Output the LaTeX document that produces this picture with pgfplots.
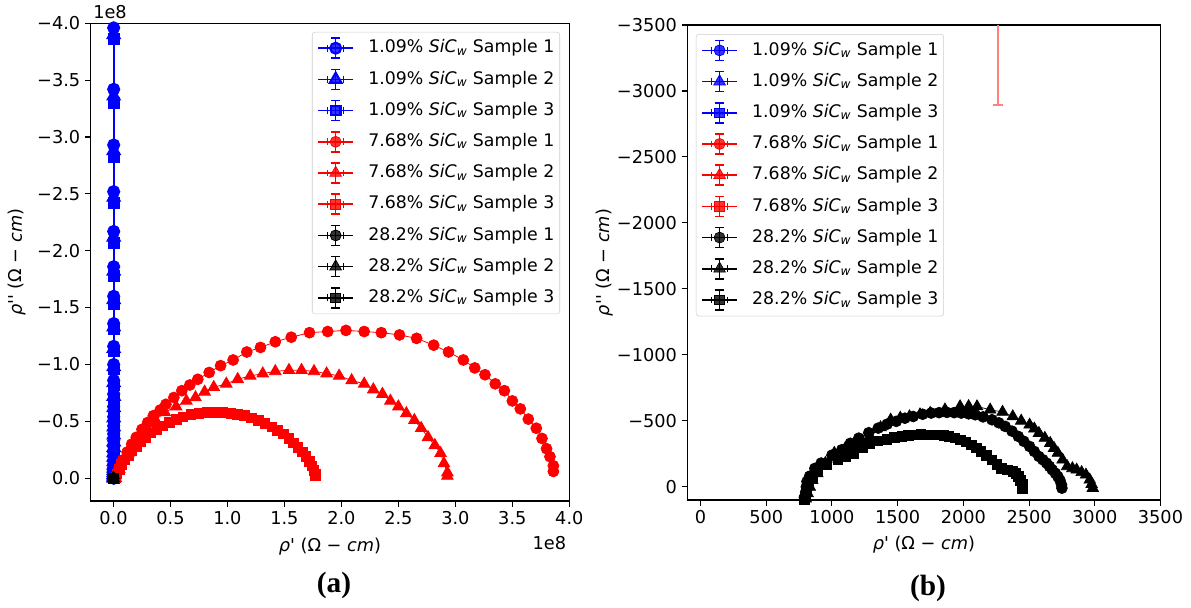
\documentclass[border=0pt]{standalone}
\usepackage{fontspec}
\setmainfont{DejaVu Sans}[Ligatures=TeXOff]
\newfontfamily\capfont{Liberation Serif}
\usepackage{pgfplots}
\pgfplotsset{compat=1.18}
\definecolor{mplblue}{RGB}{0,0,255}
\definecolor{mplred}{RGB}{255,0,0}
\definecolor{errred}{RGB}{255,130,130}
\newcommand{\sic}{\textit{SiC}\textsubscript{\textit{w}}}
\newcommand{\rholabel}[1]{\textit{ρ}#1 (Ω − \textit{cm})}
\pgfplotsset{
  errleg/.style={legend image code/.code={
    \draw[##1,mark=none,line width=1.1pt] (0pt,0pt) -- (26pt,0pt);
    \draw[##1,mark=none,line width=1.1pt] (7pt,-2.5pt) -- (7pt,2.5pt);
    \draw[##1,mark=none,line width=1.1pt] (19pt,-2.5pt) -- (19pt,2.5pt);
    \draw[##1,mark=none,line width=1.1pt] (13pt,-7.5pt) -- (13pt,7.5pt);
    \draw[##1,mark=none,line width=1.1pt] (9.5pt,-7.5pt) -- (16.5pt,-7.5pt);
    \draw[##1,mark=none,line width=1.1pt] (9.5pt,7.5pt) -- (16.5pt,7.5pt);
    \draw[##1] plot coordinates {(13pt,0pt)};
  }},
  mplaxis/.style={
    scale only axis, anchor=south west,
    axis line style={line width=0.8pt},
    tick align=outside, xtick pos=bottom, ytick pos=left,
    major tick length=4.3pt,
    every tick/.style={black, line width=0.8pt},
    minor tick num=0,
    tick label style={font=\fontsize{13.3}{16}\selectfont},
    y dir=reverse, scaled ticks=false, clip=true,
    errleg,
    legend cell align=left,
    legend style={draw=black!20, rounded corners=2pt, fill=white, fill opacity=0.8, text opacity=1,
      font=\fontsize{13}{15}\selectfont, inner xsep=4pt, inner ysep=4pt, row sep=7.3pt, column sep=10.9pt,
      nodes={inner sep=0pt, text height=10pt, text depth=3pt}},
  },
  circ/.style={mark=*, mark size=4.1pt, line width=0.6pt},
  tri/.style={mark=triangle*, mark size=5pt, line width=0.6pt},
  sqr/.style={mark=square*, mark size=3.6pt, line width=0.6pt},
}
\begin{document}
\begin{tikzpicture}
\useasboundingbox (0,0) rectangle (893.25pt,455.25pt);
% ---------------- (a) ----------------
\begin{axis}[mplaxis, at={(68.0pt,79.5pt)}, width=359pt, height=358.3pt,
  xmin=-0.2, xmax=4.0, ymin=-4.0, ymax=0.2,
  xtick={0,0.5,1,1.5,2,2.5,3,3.5,4}, xticklabels={0.0,0.5,1.0,1.5,2.0,2.5,3.0,3.5,4.0},
  ytick={-4,-3.5,-3,-2.5,-2,-1.5,-1,-0.5,0},
  yticklabels={−4.0,−3.5,−3.0,−2.5,−2.0,−1.5,−1.0,−0.5,0.0},
  xlabel={\rholabel{'}}, ylabel={\rholabel{''}},
  every axis x label/.style={at={(axis description cs:0.5,-0.0957)}, anchor=center, font=\fontsize{13.3}{16}\selectfont},
  every axis y label/.style={at={(axis description cs:-0.154,0.5)}, anchor=center, rotate=90, font=\fontsize{13.3}{16}\selectfont},
  legend style={at={(axis description cs:0.9805,0.982)}, anchor=north east}]
\addplot[color=mplblue, circ, line width=1.6pt] coordinates {
(0.002,0) (0.002,-0.01) (0.002,-0.02) (0.002,-0.035) (0.002,-0.05) (0.002,-0.07) (0.002,-0.09) (0.002,-0.12) (0.002,-0.15) (0.002,-0.19) (0.002,-0.23) (0.002,-0.28) (0.002,-0.33) (0.002,-0.39) (0.002,-0.46) (0.002,-0.54) (0.002,-0.63) (0.002,-0.74) (0.002,-0.86) (0.002,-1.00) (0.002,-1.16) (0.002,-1.36) (0.002,-1.60) (0.002,-1.86) (0.002,-2.17) (0.002,-2.52) (0.002,-2.93) (0.002,-3.42) (0.002,-3.96) (0.002,-4.62)};
\addlegendentry{1.09\% \sic{} Sample 1}
\addplot[color=mplblue, tri, line width=1.6pt] coordinates {
(0.002,0) (0.002,-0.01) (0.002,-0.02) (0.002,-0.034) (0.002,-0.05) (0.002,-0.068) (0.002,-0.088) (0.002,-0.115) (0.002,-0.145) (0.002,-0.185) (0.002,-0.225) (0.002,-0.27) (0.002,-0.32) (0.002,-0.38) (0.002,-0.45) (0.002,-0.53) (0.002,-0.62) (0.002,-0.72) (0.002,-0.84) (0.002,-0.98) (0.002,-1.14) (0.002,-1.33) (0.002,-1.57) (0.002,-1.82) (0.002,-2.12) (0.002,-2.47) (0.002,-2.88) (0.002,-3.36) (0.002,-3.90) (0.002,-4.55)};
\addlegendentry{1.09\% \sic{} Sample 2}
\addplot[color=mplblue, sqr, line width=1.6pt] coordinates {
(0.002,0) (0.002,-0.01) (0.002,-0.02) (0.002,-0.033) (0.002,-0.048) (0.002,-0.066) (0.002,-0.086) (0.002,-0.112) (0.002,-0.14) (0.002,-0.18) (0.002,-0.22) (0.002,-0.265) (0.002,-0.315) (0.002,-0.37) (0.002,-0.44) (0.002,-0.52) (0.002,-0.60) (0.002,-0.70) (0.002,-0.82) (0.002,-0.96) (0.002,-1.12) (0.002,-1.31) (0.002,-1.53) (0.002,-1.78) (0.002,-2.07) (0.002,-2.42) (0.002,-2.82) (0.002,-3.30) (0.002,-3.86) (0.002,-4.50)};
\addlegendentry{1.09\% \sic{} Sample 3}
\addplot[color=mplred, circ] coordinates {
(0.02,0) (0.03,-0.04) (0.05,-0.09) (0.08,-0.16) (0.12,-0.23) (0.16,-0.30) (0.20,-0.36) (0.25,-0.43) (0.30,-0.49) (0.35,-0.55) (0.41,-0.60) (0.46,-0.65) (0.53,-0.71) (0.60,-0.77) (0.67,-0.82) (0.74,-0.87) (0.84,-0.93) (0.94,-0.99) (1.05,-1.04) (1.17,-1.11) (1.29,-1.15) (1.42,-1.20) (1.56,-1.24) (1.72,-1.28) (1.88,-1.29) (2.04,-1.30) (2.20,-1.29) (2.35,-1.28) (2.51,-1.26) (2.66,-1.23) (2.81,-1.17) (2.94,-1.11) (3.07,-1.04) (3.17,-0.97) (3.26,-0.91) (3.35,-0.83) (3.43,-0.77) (3.50,-0.68) (3.57,-0.61) (3.64,-0.52) (3.71,-0.44) (3.76,-0.35) (3.80,-0.26) (3.83,-0.19) (3.86,-0.11) (3.86,-0.06)};
\addlegendentry{7.68\% \sic{} Sample 1}
\addplot[color=mplred, tri] coordinates {
(0.02,0) (0.05,-0.08) (0.09,-0.15) (0.13,-0.22) (0.18,-0.29) (0.24,-0.37) (0.30,-0.44) (0.37,-0.51) (0.45,-0.58) (0.55,-0.63) (0.64,-0.68) (0.72,-0.71) (0.80,-0.76) (0.88,-0.80) (0.99,-0.83) (1.09,-0.87) (1.20,-0.90) (1.31,-0.92) (1.42,-0.94) (1.54,-0.95) (1.65,-0.95) (1.76,-0.94) (1.87,-0.92) (1.98,-0.90) (2.09,-0.86) (2.20,-0.83) (2.28,-0.78) (2.36,-0.74) (2.43,-0.68) (2.50,-0.63) (2.57,-0.57) (2.64,-0.51) (2.70,-0.44) (2.76,-0.36) (2.82,-0.29) (2.87,-0.22) (2.90,-0.13) (2.93,-0.05) (2.93,-0.02)};
\addlegendentry{7.68\% \sic{} Sample 2}
\addplot[color=mplred, sqr] coordinates {
(0.02,-0.01) (0.03,-0.04) (0.05,-0.08) (0.07,-0.12) (0.10,-0.16) (0.13,-0.20) (0.16,-0.24) (0.20,-0.28) (0.24,-0.32) (0.28,-0.36) (0.33,-0.40) (0.38,-0.43) (0.43,-0.46) (0.49,-0.49) (0.55,-0.52) (0.61,-0.54) (0.68,-0.56) (0.75,-0.57) (0.82,-0.58) (0.89,-0.58) (0.96,-0.58) (1.03,-0.57) (1.09,-0.56) (1.15,-0.55) (1.21,-0.53) (1.27,-0.51) (1.33,-0.48) (1.39,-0.45) (1.44,-0.42) (1.49,-0.39) (1.54,-0.35) (1.58,-0.31) (1.62,-0.27) (1.66,-0.23) (1.69,-0.19) (1.72,-0.15) (1.74,-0.11) (1.76,-0.07) (1.77,-0.04) (1.77,-0.02)};
\addlegendentry{7.68\% \sic{} Sample 3}
\addplot[color=black, circ] coordinates {(0.0000079,-0.0000008) (0.0000150,-0.0000050) (0.0000275,0.0000000)};
\addlegendentry{28.2\% \sic{} Sample 1}
\addplot[color=black, tri] coordinates {(0.0000083,0.0000000) (0.0000160,-0.0000055) (0.0000298,0.0000000)};
\addlegendentry{28.2\% \sic{} Sample 2}
\addplot[color=black, sqr] coordinates {(0.0000080,-0.0000006) (0.0000150,-0.0000040) (0.0000245,0.0000000)};
\addlegendentry{28.2\% \sic{} Sample 3}
\end{axis}
% ---------------- (b) ----------------
\begin{axis}[mplaxis, at={(515.55pt,80.25pt)}, width=354.8pt, height=356.25pt,
  xmin=-100, xmax=3500, ymin=-3500, ymax=100,
  xtick={0,500,1000,1500,2000,2500,3000,3500}, xticklabels={0,500,1000,1500,2000,2500,3000,3500},
  ytick={-3500,-3000,-2500,-2000,-1500,-1000,-500,0},
  yticklabels={−3500,−3000,−2500,−2000,−1500,−1000,−500,0},
  xlabel={\rholabel{'}}, ylabel={\rholabel{''}},
  every axis x label/.style={at={(axis description cs:0.5,-0.0947)}, anchor=center, font=\fontsize{13.3}{16}\selectfont},
  every axis y label/.style={at={(axis description cs:-0.176,0.5)}, anchor=center, rotate=90, font=\fontsize{13.3}{16}\selectfont},
  legend style={at={(axis description cs:0.018,0.981)}, anchor=north west}]
\addlegendimage{color=mplblue, circ}
\addlegendentry{1.09\% \sic{} Sample 1}
\addlegendimage{color=mplblue, tri}
\addlegendentry{1.09\% \sic{} Sample 2}
\addlegendimage{color=mplblue, sqr}
\addlegendentry{1.09\% \sic{} Sample 3}
\addlegendimage{color=mplred, circ}
\addlegendentry{7.68\% \sic{} Sample 1}
\addlegendimage{color=mplred, tri}
\addlegendentry{7.68\% \sic{} Sample 2}
\addlegendimage{color=mplred, sqr}
\addlegendentry{7.68\% \sic{} Sample 3}
\addplot[forget plot, color=errred, draw=none, mark=none,
  error bars/.cd, y dir=both, y explicit, error mark=-,
  error bar style={draw=errred, line width=1pt},
  error mark options={rotate=90, draw=errred, mark size=3.75pt, line width=1pt}]
  coordinates {(2263,-4500) +- (0,1607)};
\addplot[color=black, circ, line width=0.5pt] coordinates {
(790,80) (800,40) (805,0) (810,-40) (830,-80) (870,-140) (918,-180) (1000,-240) (1075,-281) (1140,-330) (1204,-369) (1280,-410) (1352,-445) (1420,-475) (1489,-496) (1555,-520) (1618,-533) (1690,-550) (1755,-559) (1815,-562) (1875,-564) (1930,-562) (1984,-559) (2040,-553) (2090,-546) (2150,-530) (2218,-508) (2270,-485) (2318,-458) (2370,-422) (2418,-382) (2460,-345) (2504,-306) (2540,-268) (2575,-230) (2605,-205) (2633,-180) (2655,-155) (2676,-129) (2700,-103) (2719,-78) (2735,-50) (2747,-15) (2750,10)};
\addlegendentry{28.2\% \sic{} Sample 1}
\addplot[color=black, tri, line width=0.5pt] coordinates {
(800,90) (815,50) (832,2) (850,-50) (889,-101) (950,-180) (1018,-256) (1100,-290) (1175,-306) (1230,-345) (1289,-382) (1370,-450) (1447,-508) (1520,-522) (1590,-533) (1670,-548) (1747,-559) (1860,-585) (1975,-609) (2040,-610) (2104,-609) (2204,-584) (2298,-567) (2376,-533) (2440,-500) (2504,-470) (2540,-440) (2575,-407) (2620,-370) (2661,-331) (2690,-293) (2719,-256) (2755,-205) (2790,-155) (2830,-140) (2862,-129) (2900,-110) (2933,-91) (2962,-53) (2976,-20) (2985,10)};
\addlegendentry{28.2\% \sic{} Sample 2}
\addplot[color=black, sqr, line width=0.5pt] coordinates {
(790,100) (800,60) (803,35) (820,-20) (850,-80) (889,-129) (960,-170) (1046,-205) (1100,-230) (1161,-256) (1230,-300) (1289,-331) (1350,-350) (1418,-362) (1475,-375) (1532,-382) (1580,-390) (1632,-395) (1675,-396) (1718,-395) (1760,-395) (1804,-395) (1850,-388) (1890,-382) (1935,-370) (1975,-357) (2020,-340) (2061,-319) (2100,-295) (2133,-269) (2175,-237) (2218,-205) (2255,-170) (2290,-142) (2335,-128) (2376,-117) (2400,-100) (2418,-78) (2435,-50) (2447,-20) (2450,10)};
\addlegendentry{28.2\% \sic{} Sample 3}
\end{axis}
\node[anchor=west, font=\fontsize{13.3}{16}\selectfont, inner sep=0pt] at (69.75pt,446.25pt) {1e8};
\node[anchor=east, font=\fontsize{13.3}{16}\selectfont, inner sep=0pt] at (424.8pt,48pt) {1e8};
\node[font=\capfont\bfseries\fontsize{22}{26}\selectfont, inner sep=0pt] at (250.5pt,16.5pt) {(a)};
\node[font=\capfont\bfseries\fontsize{22}{26}\selectfont, inner sep=0pt] at (696pt,14.25pt) {(b)};
\end{tikzpicture}
\end{document}
